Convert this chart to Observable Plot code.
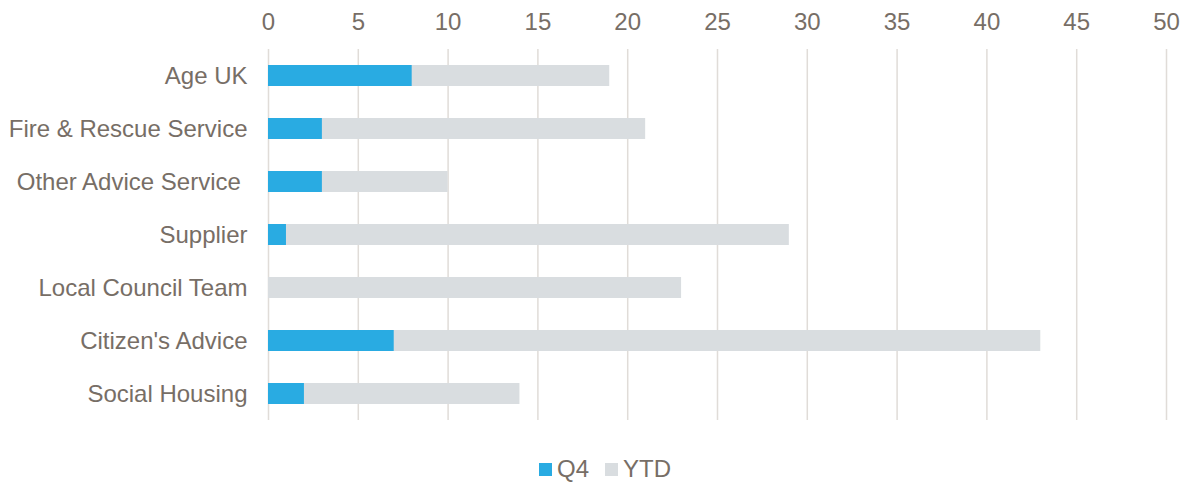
<!DOCTYPE html>
<html>
<head>
<meta charset="utf-8">
<script src="https://cdn.jsdelivr.net/npm/d3@7"></script>
<script src="https://cdn.jsdelivr.net/npm/@observablehq/plot@0.6"></script>
<style>
  body { margin: 0; background: #fff; font-family: "Liberation Sans", Arial, sans-serif; }
  #legend { display: flex; justify-content: center; align-items: center; font-size: 24px; line-height: 28px; color: #776e66; margin-top: 15px; padding-left: 24px; }
  .item { display: flex; align-items: center; margin: 0 8px; }
  .sw { width: 13px; height: 13px; margin-right: 5px; }
</style>
</head>
<body>
<div id="chart"></div>
<div id="legend"></div>
<script>
const categories = ["Age UK", "Fire & Rescue Service", "Other Advice Service ", "Supplier", "Local Council Team", "Citizen's Advice", "Social Housing"];
const q4 = [8, 3, 3, 1, 0, 7, 2];
const ytd = [19, 21, 10, 29, 23, 43, 14];
const xTicks = [0, 5, 10, 15, 20, 25, 30, 35, 40, 45, 50];
const seriesNames = ["Q4", "YTD"];
const colors = ["#29abe2", "#d9dde0"];

const rows = categories.map((c, i) => ({category: c, q4: q4[i], ytd: ytd[i]}));

const textColor = "#776e66";
const chart = Plot.plot({
  width: 1186,
  height: 440,
  marginTop: 49,
  marginBottom: 20,
  marginLeft: 268,
  marginRight: 20,
  style: {fontFamily: "'Liberation Sans', Arial, sans-serif", fontSize: "24px", color: textColor, background: "#fff"},
  x: {domain: [0, 50], axis: null},
  y: {domain: categories, paddingInner: 0.605, paddingOuter: 0.29, axis: null},
  marks: [
    Plot.gridX(xTicks, {stroke: "#e0dcd8", strokeOpacity: 1, strokeWidth: 1.5}),
    Plot.barX(rows, {y: "category", x: "ytd", fill: colors[1]}),
    Plot.barX(rows.filter(d => d.q4 > 0), {y: "category", x: "q4", fill: colors[0]}),
    Plot.axisX(xTicks, {anchor: "top", tickSize: 0, tickPadding: 20, fill: textColor, fontSize: 24, label: null}),
    Plot.axisY(categories, {anchor: "left", tickSize: 0, tickPadding: 21, fill: textColor, fontSize: 24, label: null})
  ]
});
document.getElementById("chart").appendChild(chart);

const legend = document.getElementById("legend");
seriesNames.forEach((n, i) => {
  const it = document.createElement("div");
  it.className = "item";
  const sw = document.createElement("div");
  sw.className = "sw";
  sw.style.background = colors[i];
  const t = document.createElement("span");
  t.textContent = n;
  it.appendChild(sw); it.appendChild(t);
  legend.appendChild(it);
});
</script>
</body>
</html>
